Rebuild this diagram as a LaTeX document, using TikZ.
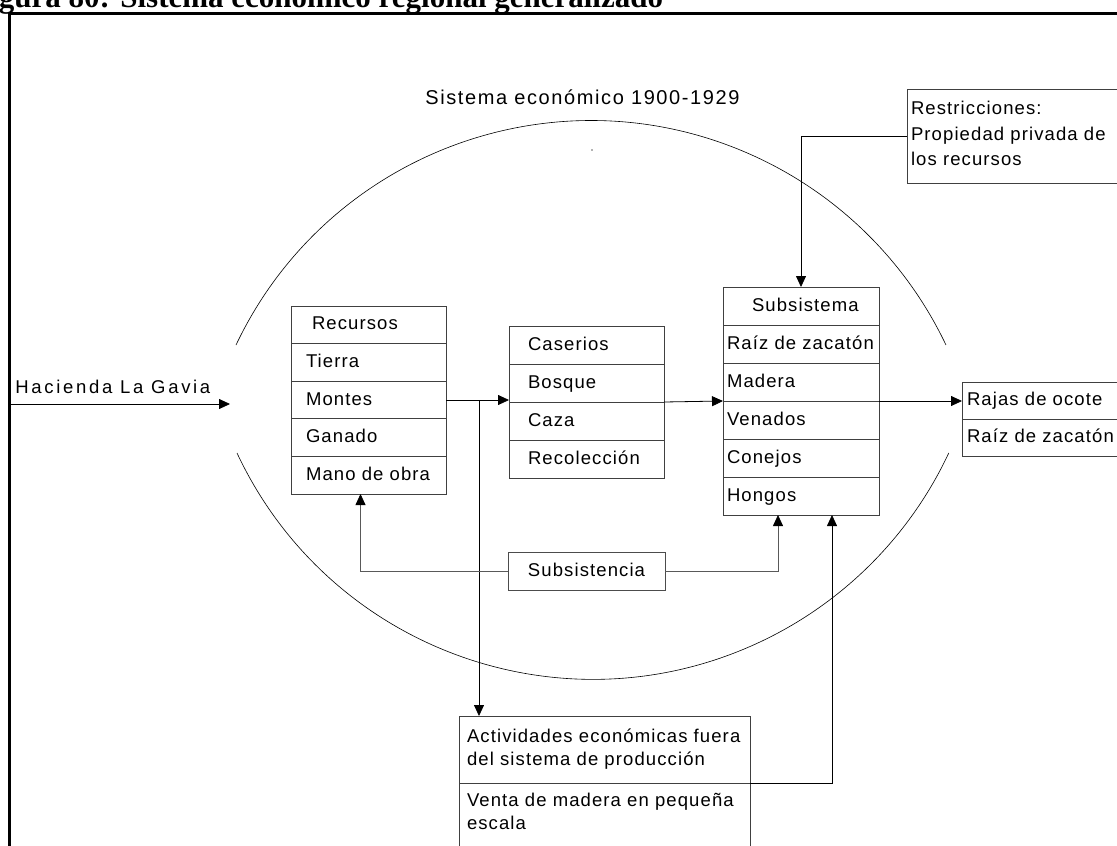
\documentclass[tikz,border=0pt]{standalone}
\usepackage{fontspec}
\setmainfont{Liberation Sans}
\newfontfamily\titulofont{Liberation Serif}
\newfontfamily\cajafont[LetterSpace=6]{Liberation Sans}
\newfontfamily\rotulofont[LetterSpace=8]{Liberation Sans}
\newfontfamily\anchofont[LetterSpace=14.5]{Liberation Sans}
\usetikzlibrary{arrows.meta,positioning}

\tikzset{
  texto/.style={font=\cajafont\fontsize{18.5}{23}\selectfont},
  fila/.style={texto, draw=black!75, outer sep=0pt, inner ysep=11pt, text height=13pt, text depth=3pt, align=left},
  bloque/.style={texto, draw=black!75, outer sep=0pt, align=left},
  flecha/.style={-{Triangle[length=11pt,width=10pt,black]}},
}

\begin{document}
\begin{tikzpicture}[x=1pt,y=-1pt,line width=0.8pt]
\useasboundingbox (0,0) rectangle (1117,846);
\clip (0,0) rectangle (1117,846);
% marco y titulo
\draw[line width=3pt] (9,900) -- (9,13) -- (1200,13);
\node[anchor=base west, inner sep=0pt, font=\titulofont\bfseries\fontsize{31}{31}\selectfont] (titulo) at (-29,7.5) {Figura 80: Sistema económico regional generalizado};
\node[anchor=base west, inner sep=0pt, font=\rotulofont\fontsize{20}{24}\selectfont] (sistema) at (425,104) {Sistema económico 1900-1929};
% limite del sistema
\draw[line width=0.6pt] (236,345) arc[start angle=154.6, end angle=25.4, radius=393pt];
\draw[line width=0.6pt] (237,453) arc[start angle=205.1, end angle=334.9, radius=393pt];
\fill[black!60] (592,150) circle[radius=0.8pt];

% recursos
\begin{scope}[every node/.append style={fila, inner xsep=15pt, text width=125pt, inner ysep=10.8pt}]
\node[anchor=north west, inner xsep=21pt, text width=113pt] (rec0) at (291,306) {Recursos};
\node[below=0pt of rec0] (rec1) {Tierra};
\node[below=0pt of rec1] (rec2) {Montes};
\node[below=0pt of rec2] (rec3) {Ganado};
\node[below=0pt of rec3] (rec4) {Mano de obra};
\end{scope}
% caserios
\begin{scope}[every node/.append style={fila, inner xsep=19pt, text width=117pt}]
\node[anchor=north west] (cas0) at (509,326) {Caserios};
\node[below=0pt of cas0] (cas1) {Bosque};
\node[below=0pt of cas1] (cas2) {Caza};
\node[below=0pt of cas2] (cas3) {Recolección};
\end{scope}
% subsistema
\begin{scope}[every node/.append style={fila, inner xsep=4pt, text width=148pt}]
\node[anchor=north west, inner xsep=29pt, text width=98pt] (sub0) at (723,287) {Subsistema};
\node[below=0pt of sub0] (sub1) {Raíz de zacatón};
\node[below=0pt of sub1] (sub2) {Madera};
\node[below=0pt of sub2] (sub3) {Venados};
\node[below=0pt of sub3] (sub4) {Conejos};
\node[below=0pt of sub4] (sub5) {Hongos};
\end{scope}
% salidas
\begin{scope}[every node/.append style={fila, inner xsep=5pt, text width=165pt, inner ysep=10.5pt}]
\node[anchor=north west] (raj0) at (962,382) {Rajas de ocote};
\node[below=0pt of raj0] (raj1) {Raíz de zacatón};
\end{scope}
\node[bloque, anchor=north west, inner xsep=4pt, inner ysep=12.5pt, text width=260pt, text depth=55.5pt, font=\cajafont\fontsize{18.5}{25.5}\selectfont] (restr) at (907,89) {Restricciones:\\Propiedad privada de\\los recursos};
\node[fila, draw=black!70, minimum width=157pt, text width=, align=center] (subs) at (586.5,571) {Subsistencia};
\node[bloque, anchor=north west, inner xsep=8pt, text width=275pt, minimum height=67pt] (act1) at (459,716) {Actividades económicas fuera\\del sistema de producción};
\node[bloque, below=0pt of act1, inner xsep=8pt, text width=275pt, inner ysep=10pt, text depth=80pt] (act2) {Venta de madera en pequeña\\escala};

% flujos
\coordinate (entrada) at (9,404);
\coordinate (llegada) at (230,404);
\draw[flecha] (entrada) -- (llegada);
\node[anchor=base west, inner sep=0pt, font=\anchofont\fontsize{18.5}{23}\selectfont] (hacienda) at (15,393) {Hacienda La Gavia};
\coordinate (rama) at ([xshift=33pt]rec2.east);
\draw[flecha] (rec2.east) -- (rec2.east -| cas1.south west);
\draw[flecha] (cas1.south east) -- (sub2.south west);
\draw[flecha] (sub2.south east) -- (sub2.south east -| raj0.west);
\draw[flecha] (rama) -- (rama |- act1.north);
\draw[flecha] (restr.west) -| (sub0.north);
\draw[flecha, black!65] (subs.west) -| ([xshift=-8pt]rec4.south);
\draw[flecha, black!65] (subs.east) -| ([xshift=-23pt]sub5.south);
\draw[flecha] (act1.south east) -| ([xshift=31pt]sub5.south);
\end{tikzpicture}
\end{document}
